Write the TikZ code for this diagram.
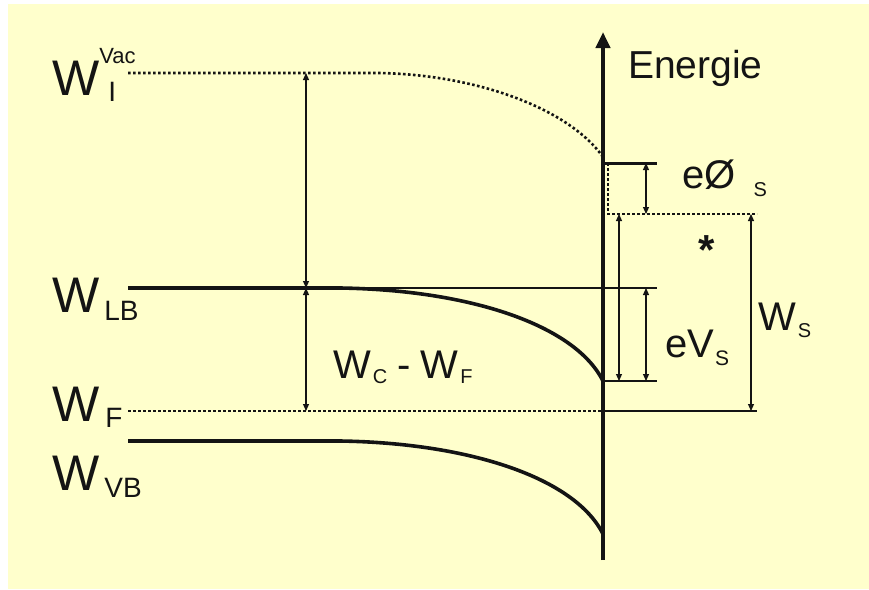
\documentclass[tikz,border=0pt]{standalone}
\usepackage{fontspec}
\setmainfont{Liberation Sans}
\definecolor{bandbg}{RGB}{255,255,204}
\definecolor{bandink}{RGB}{20,20,20}
\usetikzlibrary{arrows.meta}

\begin{document}
\begin{tikzpicture}[
    x=1pt, y=-1pt,
    band/.style={draw=bandink, line width=3.6pt},
    thinband/.style={draw=bandink, line width=1.6pt},
    dotlevel/.style={draw=bandink, line width=2.6pt, dash pattern=on 2.6pt off 2.4pt},
    gap/.style={draw=bandink, line width=1.1pt, {Triangle[length=7pt,width=6pt]}-{Triangle[length=7pt,width=6pt]}},
    lbl/.style={anchor=base west, inner sep=0pt, text=bandink, font=\fontsize{50}{50}\selectfont},
    sublbl/.style={anchor=base west, inner sep=0pt, text=bandink, font=\fontsize{40}{40}\selectfont}
  ]
    % Background
    \useasboundingbox (0,0) rectangle (869,589);
    \fill[white] (0,0) rectangle (869,589);
    \fill[bandbg] (8,4) rectangle (869,589);

    % Level end points
    \coordinate (vacL) at (128,73);
    \coordinate (vacA) at (306,73);
    \coordinate (lbL) at (128,288);
    \coordinate (lbA) at (306,288);
    \coordinate (lbR) at (657,288);
    \coordinate (fL) at (128,411);
    \coordinate (fA) at (306,411);
    \coordinate (fS) at (603,411);
    \coordinate (fR) at (757,411);
    \coordinate (vbL) at (128,441);
    \coordinate (axB) at (603,560);
    \coordinate (axT) at (603,32);
    \coordinate (ssL) at (603,163);
    \coordinate (ssR) at (657,163);
    \coordinate (ssD) at (608,214);
    \coordinate (svR) at (757,214);
    \coordinate (cbS) at (603,381);
    \coordinate (cbR) at (657,381);

    % Energy axis
    \draw[draw=bandink, line width=4pt, -{Triangle[length=16pt,width=14pt]}] (axB) -- (axT);
    \node[sublbl, font=\fontsize{39}{39}\selectfont] (energie) at (628,78) {Energie};

    % Vacuum level
    \draw[dotlevel] (vacL) -- (380,73) .. controls (480,75) and (570,110) .. (603,157);

    % Conduction band
    \draw[thinband] (lbL) -- (lbR);
    \draw[band] (lbL) -- (340,288) .. controls (470,290) and (575,325) .. (cbS);
    \draw[thinband] (cbS) -- (cbR);

    % Fermi level
    \draw[dotlevel] (fL) -- (fS);
    \draw[thinband] (fS) -- (fR);

    % Valence band
    \draw[band] (vbL) -- (340,441) .. controls (470,443) and (575,478) .. (603,534);

    % Surface states
    \draw[band, line width=3pt] (ssL) -- (ssR);
    \draw[dotlevel] (ssL -| ssD) -- (ssD) -- (svR);

    % Gaps
    \draw[gap] (vacA) -- (lbA);
    \draw[gap] (lbA) -- (fA);
    \draw[gap] (646,163) -- (646,214);
    \draw[gap] (619,214) -- (cbS -| 619,0);
    \draw[gap] (646,288) -- (646,381);
    \draw[gap] (751,214) -- (751,411);

    % Labels
    \node[lbl] (wvac) at (52,95) {W\rlap{\raisebox{32pt}{\fontsize{22}{22}\selectfont Vac}}\hspace{9pt}\raisebox{-6pt}{\fontsize{28}{28}\selectfont I}};
    \node[lbl] (wlb) at (52,312) {W\hspace{5pt}\raisebox{-8pt}{\fontsize{28}{28}\selectfont LB}};
    \node[lbl] (wf) at (52,421) {W\hspace{6pt}\raisebox{-6pt}{\fontsize{28}{28}\selectfont F}};
    \node[lbl] (wvb) at (52,490) {W\hspace{5pt}\raisebox{-7pt}{\fontsize{28}{28}\selectfont VB}};
    \node[sublbl] (wcf) at (333,378) {W\hspace{2pt}\raisebox{-5pt}{\fontsize{20}{20}\selectfont C}\hspace{10pt}-\hspace{10pt}W\hspace{2pt}\raisebox{-5pt}{\fontsize{20}{20}\selectfont F}};
    \node[sublbl] (ephi) at (682,188) {eØ\hspace{18pt}\raisebox{-8pt}{\fontsize{20}{20}\selectfont S}};
    \node[sublbl] (evs) at (665,357) {eV\hspace{1pt}\raisebox{-8pt}{\fontsize{21}{21}\selectfont S}};
    \node[sublbl] (ws) at (758,330) {W\hspace{2pt}\raisebox{-7pt}{\fontsize{20}{20}\selectfont S}};
    \node[text=bandink, font=\fontsize{42}{42}\selectfont\bfseries, inner sep=0pt] (star) at (707,250) {*};
  \end{tikzpicture}
\end{document}
